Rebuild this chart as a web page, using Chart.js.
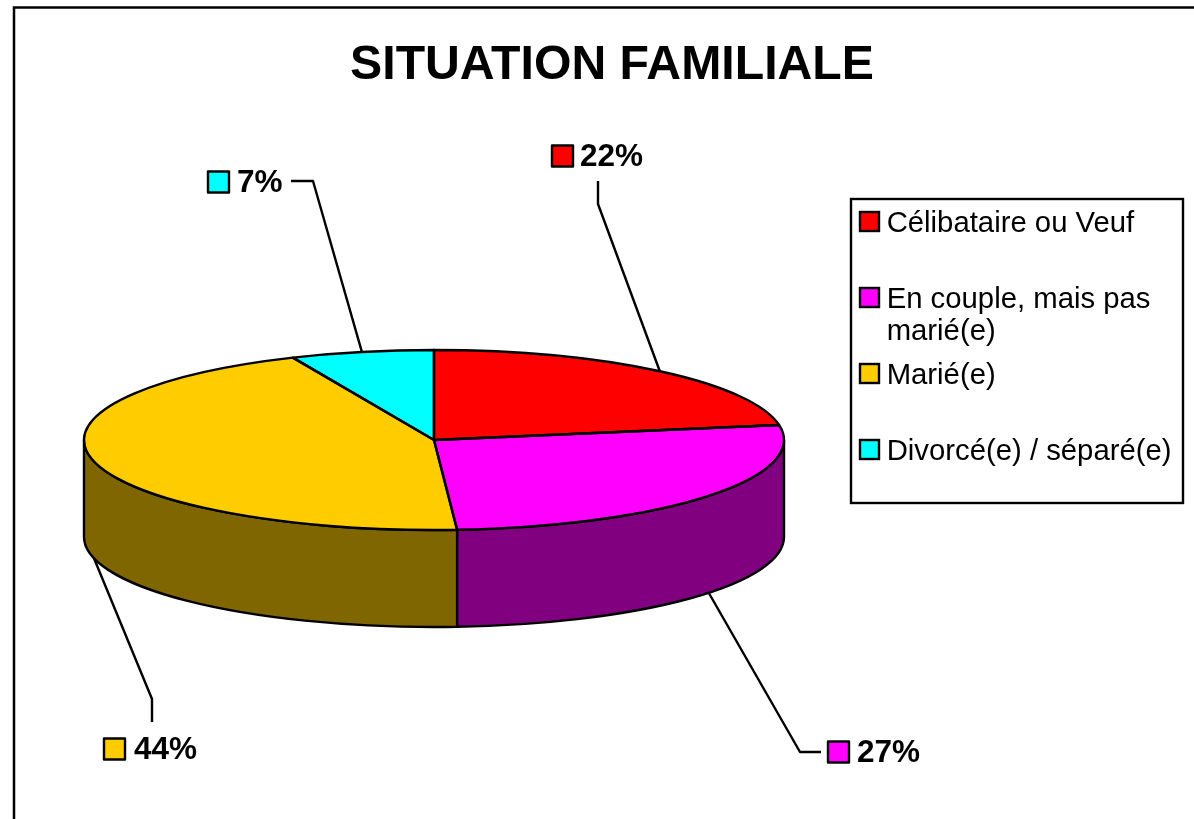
<!DOCTYPE html>
<html lang="fr">
<head>
<meta charset="utf-8">
<title>SITUATION FAMILIALE</title>
<script src="https://cdn.jsdelivr.net/npm/chart.js@4/dist/chart.umd.min.js"></script>
<style>
html,body{margin:0;padding:0;background:#fff;overflow:hidden;width:1194px;height:819px}
canvas{display:block}
</style>
</head>
<body>
<canvas id="c" width="1224" height="819"></canvas>
<script>
const chartTitle = 'SITUATION FAMILIALE';
const categories = ['Célibataire ou Veuf', 'En couple, mais pas marié(e)', 'Marié(e)', 'Divorcé(e) / séparé(e)'];
const legendLines = [['Célibataire ou Veuf'], ['En couple, mais pas', 'marié(e)'], ['Marié(e)'], ['Divorcé(e) / séparé(e)']];
const values = [22.3, 26.6, 44.4, 6.6];
const topColors = ['#FF0000', '#FF00FF', '#FFCC00', '#00FFFF'];
const sideColors = ['#800000', '#800080', '#806600', '#008080'];

const FONT = '"Liberation Sans", Arial, sans-serif';
const LEGEND_SIZE = 29.3;
const LEGEND_PAD = 76 - LEGEND_SIZE;
const SQUASH = 90 / 350;
const DEPTH = 97;
const LINE = 2.4;
// Label placement: swatch left, label centre y, text offset, and the leader's elbow and end point.
const labelLayout = [
  {sx: 552, cy: 156, tx: 28, elbow: [598, 204], end: [598, 181]},
  {sx: 828, cy: 752, tx: 29, elbow: [800, 752], end: [821, 752]},
  {sx: 104, cy: 749, tx: 30, elbow: [152, 699], end: [152, 722]},
  {sx: 208, cy: 182, tx: 29, elbow: [313, 181], end: [291, 181]}
];

function clampFront(a, b) {
  return [Math.max(a, 0), Math.min(b, Math.PI)];
}

// Legend swatch image, its square raised slightly against the label's text centre.
function makeSwatch(color) {
  const c = document.createElement('canvas');
  c.width = 31; c.height = 30;
  const g = c.getContext('2d');
  g.fillStyle = color;
  g.strokeStyle = '#000';
  g.lineWidth = LINE;
  g.fillRect(6, 3, 19, 19);
  g.strokeRect(6, 3, 19, 19);
  return c;
}
const swatches = topColors.map(makeSwatch);

const pie3d = {
  id: 'pie3d',
  afterLayout(chart) {
    const t = chart.titleBlock;
    t.left = 0; t.right = chart.width;
    const l = chart.legend;
    l.left = 867 - LEGEND_PAD; l.right = 1180; l.top = 209.35 - LEGEND_PAD; l.bottom = 800;
  },
  beforeDraw(chart) {
    const ctx = chart.ctx;
    ctx.save();
    ctx.strokeStyle = '#000';
    ctx.lineWidth = 2.5;
    ctx.strokeRect(14, 7.5, 1300, 900);
    ctx.lineWidth = LINE;
    ctx.strokeRect(851, 199, 332, 304);
    ctx.restore();
  },
  beforeDatasetsDraw(chart) {
    const ctx = chart.ctx;
    const arcs = chart.getDatasetMeta(0).data;
    ctx.save();
    ctx.lineWidth = LINE;
    ctx.strokeStyle = '#000';
    ctx.lineJoin = 'round';
    arcs.forEach((arc, i) => {
      const [a, b] = clampFront(arc.startAngle, arc.endAngle);
      if (b <= a) return;
      const r = arc.outerRadius, ry = r * SQUASH;
      ctx.beginPath();
      ctx.ellipse(arc.x, arc.y, r, ry, 0, a, b);
      ctx.ellipse(arc.x, arc.y + DEPTH, r, ry, 0, b, a, true);
      ctx.closePath();
      ctx.fillStyle = sideColors[i];
      ctx.fill();
      ctx.stroke();
    });
    ctx.restore();
  },
  beforeDatasetDraw(chart) {
    const ctx = chart.ctx;
    const arc = chart.getDatasetMeta(0).data[0];
    ctx.save();
    ctx.translate(arc.x, arc.y);
    ctx.scale(1, SQUASH);
    ctx.translate(-arc.x, -arc.y);
  },
  afterDatasetDraw(chart) {
    chart.ctx.restore();
  },
  afterDatasetsDraw(chart) {
    const ctx = chart.ctx;
    const arcs = chart.getDatasetMeta(0).data;
    ctx.save();
    ctx.lineWidth = LINE;
    ctx.strokeStyle = '#000';
    ctx.lineJoin = 'round';
    arcs.forEach(arc => {
      const r = arc.outerRadius;
      ctx.beginPath();
      ctx.moveTo(arc.x, arc.y);
      ctx.ellipse(arc.x, arc.y, r, r * SQUASH, 0, arc.startAngle, arc.endAngle);
      ctx.closePath();
      ctx.stroke();
    });
    arcs.forEach((arc, i) => {
      const L = labelLayout[i];
      const mid = (arc.startAngle + arc.endAngle) / 2;
      const r = arc.outerRadius;
      const ax = arc.x + Math.cos(mid) * r;
      let ay = arc.y + Math.sin(mid) * r * SQUASH;
      if (Math.sin(mid) > 0) ay += DEPTH;
      ctx.beginPath();
      ctx.moveTo(ax, ay);
      ctx.lineTo(L.elbow[0], L.elbow[1]);
      ctx.lineTo(L.end[0], L.end[1]);
      ctx.stroke();
      ctx.fillStyle = topColors[i];
      ctx.fillRect(L.sx, L.cy - 10.5, 21, 21);
      ctx.strokeRect(L.sx, L.cy - 10.5, 21, 21);
      ctx.fillStyle = '#000';
      ctx.font = 'bold 31.5px ' + FONT;
      ctx.textAlign = 'left';
      ctx.textBaseline = 'middle';
      ctx.fillText(Math.round(values[i]) + '%', L.sx + L.tx, L.cy + 1);
    });
    ctx.restore();
  },
  afterDraw(chart) {
    // Continuation lines of wrapped legend entries
    const ctx = chart.ctx;
    const l = chart.legend;
    ctx.save();
    ctx.fillStyle = '#000';
    ctx.font = LEGEND_SIZE + 'px ' + FONT;
    ctx.textAlign = 'left';
    ctx.textBaseline = 'middle';
    legendLines.forEach((lines, i) => {
      lines.slice(1).forEach((line, j) => {
        const x = l.left + LEGEND_PAD + 5 + LEGEND_SIZE / 2;
        const y = l.top + LEGEND_PAD + LEGEND_SIZE / 2 + 76 * i + 31.5 * (j + 1);
        ctx.fillText(line, x, y);
      });
    });
    ctx.restore();
  }
};

new Chart(document.getElementById('c'), {
  type: 'pie',
  data: {
    labels: categories,
    datasets: [{data: values, backgroundColor: topColors, borderWidth: 0}]
  },
  plugins: [pie3d],
  options: {
    responsive: false,
    animation: false,
    events: [],
    rotation: 0,
    layout: {padding: {left: 84, right: 440, top: 0, bottom: 29}},
    plugins: {
      tooltip: {enabled: false},
      title: {
        display: true,
        text: chartTitle,
        color: '#000',
        font: {family: FONT, size: 48.2, weight: 'bold', lineHeight: 1},
        padding: {top: 41.8, bottom: 0}
      },
      legend: {
        display: true,
        position: 'chartArea',
        align: 'start',
        labels: {
          color: '#000',
          font: {family: FONT, size: LEGEND_SIZE, lineHeight: 1.07},
          padding: LEGEND_PAD,
          boxWidth: 5,
          boxHeight: 19,
          usePointStyle: true,
          generateLabels: () => legendLines.map((lines, i) => ({
            text: lines[0],
            fillStyle: topColors[i],
            strokeStyle: '#000',
            lineWidth: LINE,
            pointStyle: swatches[i],
            hidden: false,
            index: i
          }))
        }
      }
    }
  }
});
</script>
</body>
</html>
